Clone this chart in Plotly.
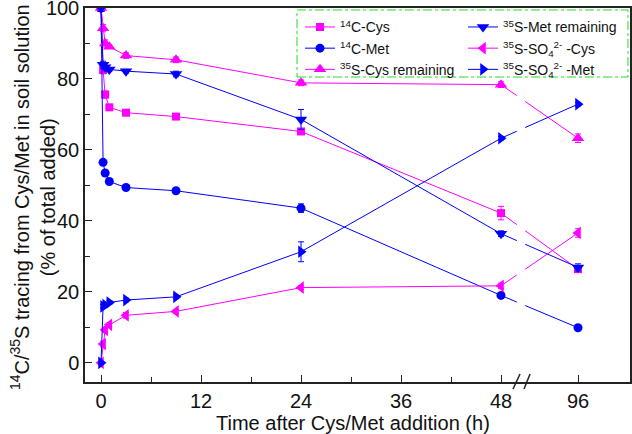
import plotly.graph_objects as go

# ---------------- data ----------------
times = [0, 0.25, 0.5, 1, 3, 9, 24, 48, 96]

c14_cys = [100, 82.5, 75.6, 72.0, 70.5, 69.4, 65.2, 42.2, 26.4]
c14_cys_err = [0, 1.0, 1.0, 0.5, 0.5, 0.5, 0.8, 1.9, 0.8]

c14_met = [100, 56.5, 53.5, 51.1, 49.4, 48.5, 43.6, 19.0, 9.9]
c14_met_err = [0, 0.5, 0.5, 0.5, 0.5, 0.5, 1.2, 0.8, 0.5]

s35_cys_rem = [100, 94.3, 90.0, 89.1, 86.6, 85.4, 78.9, 78.4, 63.3]
s35_cys_rem_err = [0, 1.0, 1.0, 0.5, 0.8, 0.8, 0.8, 0.8, 1.2]

s35_met_rem = [100, 84.0, 83.3, 82.7, 82.2, 81.4, 68.6, 36.4, 26.9]
s35_met_rem_err = [0, 1.0, 0.5, 0.5, 0.5, 0.8, 2.8, 0.8, 1.0]

so4_cys = [0, 5.3, 9.3, 10.7, 13.4, 14.5, 21.2, 21.7, 36.6]
so4_cys_err = [0, 0.8, 0.8, 0.5, 0.8, 0.5, 0.5, 0.8, 1.2]

so4_met = [0, 15.9, 16.3, 17.0, 17.7, 18.6, 31.3, 63.3, 72.9]
so4_met_err = [0, 0.5, 0.5, 0.5, 0.5, 0.5, 2.8, 0.5, 0.5]

tick_labels = ["0", "12", "24", "36", "48", "96"]
tick_times = [0, 12, 24, 36, 48, 96]
minor_times = [6, 18, 30, 42]

# broken axis: 48 -> 96 compressed
BREAK_AT = 48
COMPRESS = 9.24 / 48.0


def xpos(t):
    return t if t <= BREAK_AT else BREAK_AT + (t - BREAK_AT) * COMPRESS


MAG = "#FF00FF"
BLUE = "#0000FF"
FONT = "Arial, Liberation Sans, sans-serif"

series = [
    ("<sup>14</sup>C-Cys", c14_cys, c14_cys_err, MAG, "square", 8, "legend"),
    ("<sup>14</sup>C-Met", c14_met, c14_met_err, BLUE, "circle", 9, "legend"),
    ("<sup>35</sup>S-Cys remaining", s35_cys_rem, s35_cys_rem_err, MAG, "triangle-up", 11, "legend"),
    ("<sup>35</sup>S-Met remaining", s35_met_rem, s35_met_rem_err, BLUE, "triangle-down", 11, "legend2"),
    ("<sup>35</sup>S-SO<sub>4</sub><sup>2-</sup> -Cys", so4_cys, so4_cys_err, MAG, "triangle-left", 11, "legend2"),
    ("<sup>35</sup>S-SO<sub>4</sub><sup>2-</sup> -Met", so4_met, so4_met_err, BLUE, "triangle-right", 11, "legend2"),
]

fig = go.Figure()
xs = [xpos(t) for t in times]
for name, vals, errs, col, sym, size, leg in series:
    fig.add_trace(go.Scatter(
        x=xs, y=vals, name=name, mode="lines+markers", legend=leg,
        line=dict(color=col, width=1),
        marker=dict(symbol=sym, size=size, color=col),
        error_y=dict(type="data", array=errs, color=col, thickness=1, width=3),
    ))

# gap in lines at the axis break
fig.add_shape(type="rect", xref="x", yref="y", x0=49.9, x1=50.9, y0=-3, y1=78,
              fillcolor="white", line=dict(width=0), layer="above")

# break marks on x axis
for x0, x1 in [(0.7853, 0.7982), (0.8055, 0.8166)]:
    fig.add_shape(type="line", xref="paper", yref="paper", x0=x0, y0=-0.0187,
                  x1=x1, y1=0.0214, line=dict(color="#222", width=1.5))

# legend border (dash-dot green)
fig.add_shape(type="rect", xref="paper", yref="paper", x0=0.389, x1=0.9963,
              y0=0.8155, y1=0.9947, line=dict(color="#22DD22", width=1, dash="dashdot"),
              fillcolor="rgba(0,0,0,0)", layer="above")

leg_common = dict(
    orientation="v", yanchor="top", xanchor="left",
    font=dict(family=FONT, size=14, color="#111"),
    bgcolor="rgba(0,0,0,0)", borderwidth=0, itemwidth=30,
    tracegroupgap=0,
)

fig.update_layout(
    width=632, height=434,
    margin=dict(l=85, r=2, t=8, b=52, autoexpand=False),
    plot_bgcolor="white", paper_bgcolor="white",
    font=dict(family=FONT, size=20, color="#111"),
    showlegend=True,
    legend=dict(x=(300 - 85) / 545, y=0.991, **leg_common),
    legend2=dict(x=(463 - 85) / 545, y=0.991, **leg_common),
    xaxis=dict(
        range=[-1.92, 63.48],
        tickmode="array",
        tickvals=[xpos(t) for t in tick_times],
        ticktext=tick_labels,
        ticks="inside", ticklen=7, tickwidth=1.2, tickcolor="#222",
        minor=dict(tickmode="array", tickvals=minor_times, ticks="inside",
                   ticklen=5, tickwidth=1.2, tickcolor="#222"),
        showline=True, linecolor="#222", linewidth=1.5, mirror=True,
        showgrid=False, zeroline=False, ticklabeloverflow="allow",
        tickfont=dict(size=20),
    ),
    yaxis=dict(
        range=[-5.4, 100],
        tickmode="array", tickvals=[0, 20, 40, 60, 80, 100],
        ticks="inside", ticklen=7, tickwidth=1.2, tickcolor="#222",
        minor=dict(tickmode="array", tickvals=[10, 30, 50, 70, 90], ticks="inside",
                   ticklen=5, tickwidth=1.2, tickcolor="#222"),
        showline=True, linecolor="#222", linewidth=1.5, mirror=True,
        showgrid=False, zeroline=False, ticklabeloverflow="allow",
        tickfont=dict(size=20),
    ),
    annotations=[
        dict(text="<sup>14</sup>C/<sup>35</sup>S tracing from Cys/Met in soil solution<br>(% of total added)",
             xref="paper", yref="paper", x=-0.095, y=0.495, textangle=-90,
             showarrow=False, xanchor="center", yanchor="middle",
             font=dict(size=20, family=FONT, color="#111")),
        dict(text="Time after Cys/Met addition (h)",
             xref="paper", yref="paper", x=0.4917, y=-0.1096,
             showarrow=False, xanchor="center", yanchor="middle",
             font=dict(size=20, family=FONT, color="#111")),
    ],
)

fig.write_html("out.html",
               config={"displayModeBar": False},
               post_script="document.body.style.margin='0px';document.body.style.padding='0px';")
